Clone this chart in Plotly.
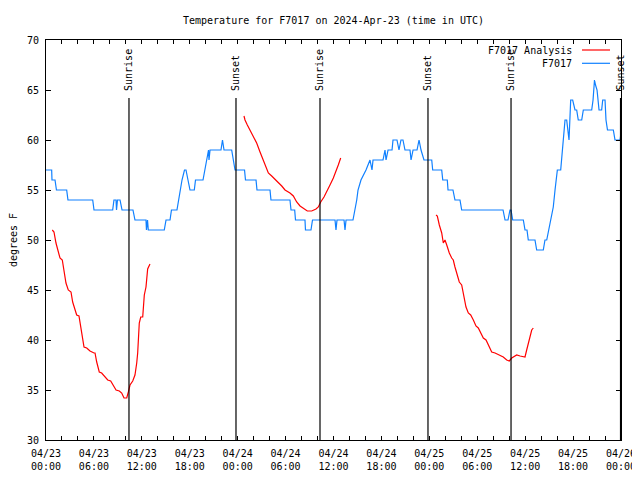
import pandas as pd
import plotly.graph_objects as go

START = "2024-04-23 00:00"

# Observations F7017 (hours since 04/23 00:00 UTC, degrees F)
obs_hours = [0.0, 0.71, 0.75, 1.13, 1.31, 2.59, 2.75, 5.85, 6.01, 8.35, 8.51, 8.77, 8.83, 8.95, 9.27, 9.52,
             10.89, 11.14, 12.52, 12.58, 12.71, 12.81, 14.81, 15.03, 15.53, 15.71, 16.40, 16.59, 16.78, 17.03,
             17.34, 17.53, 17.78, 18.03, 18.57, 18.72, 19.66, 19.91, 20.16, 20.35, 20.41, 20.54, 20.79, 21.91,
             22.10, 22.29, 23.25, 23.45, 23.67, 24.86, 24.98, 26.30, 26.42, 28.05, 28.17, 30.55, 30.68, 31.14,
             31.24, 32.43, 32.49, 33.18, 33.37, 36.19, 36.31, 36.44, 37.32, 37.44, 37.57, 38.44, 38.69, 38.91,
             39.07, 39.44, 40.07, 40.57, 40.82, 40.95, 42.20, 42.45, 42.58, 42.83, 43.33, 43.45, 43.95, 44.20,
             44.45, 44.70, 44.95, 45.58, 45.71, 45.96, 46.46, 46.71, 46.96, 47.33, 48.30, 48.42, 49.55, 49.68,
             50.25, 50.34, 50.96, 51.21, 51.84, 52.05, 57.23, 57.48, 57.85, 58.10, 58.23, 58.44, 59.77, 59.98,
             60.23, 60.39, 61.23, 61.44, 62.27, 62.48, 62.70, 63.11, 63.52, 63.74, 63.95, 64.03, 64.45, 64.74,
             64.99, 65.20, 65.37, 65.49, 65.70, 65.95, 66.24, 66.45, 66.65, 67.08, 67.28, 68.33, 68.50, 68.68,
             68.81, 69.00, 69.25, 69.58, 69.71, 70.00, 70.12, 70.31, 71.04, 71.25, 71.88, 72.0]
obs_temp = [57, 57, 56, 56, 55, 55, 54, 54, 53, 53, 54, 54, 53, 54, 54, 53,
            53, 52, 52, 51, 52, 51, 51, 52, 52, 53, 53, 54, 55, 56,
            57, 57, 56, 55, 55, 56, 56, 57, 58, 59, 58, 59, 59, 59,
            60, 59, 59, 58, 57, 57, 56, 56, 55, 55, 54, 54, 53, 53,
            52, 52, 51, 51, 52, 52, 51, 52, 52, 51, 52, 52, 53, 54,
            55, 56, 57, 58, 57, 58, 58, 59, 58, 59, 59, 60, 60, 59,
            60, 60, 59, 59, 58, 59, 59, 60, 59, 58, 58, 57, 57, 56,
            56, 55, 55, 54, 54, 53, 53, 52, 52, 53, 53, 52, 52, 51,
            51, 50, 50, 49, 49, 50, 50, 51.7, 53.3, 55, 56.3, 57, 57, 60,
            62, 62, 60.7, 60, 64, 64, 63, 63, 62, 62, 63, 63, 64, 66,
            65.5, 65, 63, 63, 64, 64, 62, 61, 61, 60, 60, 60.7]

# Analysis F7017 (three overnight segments)
ana1_hours = [0.79, 1.00, 1.25, 1.54, 1.75, 2.04, 2.25, 2.50, 2.79, 3.13, 3.34, 3.63, 3.84, 4.13, 4.35, 4.55,
              4.76, 5.10, 5.51, 6.01, 6.14, 6.35, 6.67, 6.97, 7.39, 7.73, 8.10, 8.43, 8.77, 9.18, 9.48, 9.77,
              10.11, 10.31, 10.52, 10.86, 11.14, 11.36, 11.48, 11.68, 11.86, 12.11, 12.31, 12.52, 12.73, 13.02]
ana1_temp = [51.0, 50.8, 49.7, 48.7, 48.2, 48.0, 46.8, 45.7, 45.0, 44.8, 43.8, 43.0, 42.5, 42.4, 41.2, 40.3,
             39.3, 39.2, 38.9, 38.7, 38.7, 37.8, 36.8, 36.7, 36.3, 36.0, 35.9, 35.4, 35.0, 34.9, 34.7, 34.2,
             34.2, 34.8, 35.5, 35.9, 36.5, 37.7, 38.7, 41.7, 42.3, 42.3, 44.5, 45.3, 47.1, 47.6]
ana2_hours = [24.79, 24.92, 25.21, 25.55, 25.76, 26.05, 26.38, 26.80, 27.21, 27.55, 27.84, 28.26, 28.68,
              29.09, 29.52, 29.93, 30.55, 30.97, 31.39, 31.81, 32.22, 32.72, 33.27, 33.81, 34.10, 34.40,
              34.81, 35.22, 35.56, 35.98, 36.31, 36.60, 36.90]
ana2_temp = [62.4, 62.0, 61.5, 61.0, 60.7, 60.3, 59.7, 58.8, 58.0, 57.2, 56.7, 56.4, 56.1,
             55.8, 55.4, 55.0, 54.7, 54.4, 53.8, 53.4, 53.2, 52.9, 52.9, 53.1, 53.3, 53.8,
             54.3, 54.9, 55.5, 56.2, 56.8, 57.5, 58.2]
ana3_hours = [48.84, 49.00, 49.25, 49.55, 49.75, 49.96, 50.18, 50.50, 50.80, 51.00, 51.21, 51.50, 51.75,
              52.05, 52.26, 52.59, 52.88, 53.18, 53.51, 53.84, 54.13, 54.43, 54.76, 55.10, 55.39, 55.81,
              56.23, 56.76, 57.26, 57.69, 58.01, 58.32, 58.94, 59.36, 59.98, 60.19, 60.61, 60.82, 61.02]
ana3_temp = [52.5, 52.4, 51.5, 50.7, 49.7, 50.0, 49.5, 48.7, 48.2, 48.0, 47.3, 46.5, 45.8,
             45.5, 44.5, 43.3, 42.7, 42.5, 42.0, 41.4, 41.2, 40.7, 40.2, 40.0, 39.5, 38.8,
             38.7, 38.5, 38.3, 38.0, 37.9, 38.2, 38.5, 38.4, 38.3, 39.0, 40.2, 41.0, 41.2]

# Sun events (hours since start)
sun_hours = [10.39, 23.79, 34.31, 47.83, 58.23, 71.94]
sun_labels = ["Sunrise", "Sunset", "Sunrise", "Sunset", "Sunrise", "Sunset"]

tick_hours = [0, 6, 12, 18, 24, 30, 36, 42, 48, 54, 60, 66, 72]
tick_labels = ["04/23<br>00:00", "04/23<br>06:00", "04/23<br>12:00", "04/23<br>18:00",
               "04/24<br>00:00", "04/24<br>06:00", "04/24<br>12:00", "04/24<br>18:00",
               "04/25<br>00:00", "04/25<br>06:00", "04/25<br>12:00", "04/25<br>18:00",
               "04/26<br>00:00"]

TITLE = "Temperature for F7017 on 2024-Apr-23 (time in UTC)"
RED = "#ff0000"
BLUE = "#1080ff"
FONT = "DejaVu Sans Mono"

t0 = pd.Timestamp(START)


def to_time(hours):
    return [None if h is None else t0 + pd.Timedelta(hours=h) for h in hours]


ana_hours = ana1_hours + [None] + ana2_hours + [None] + ana3_hours
ana_temp = ana1_temp + [None] + ana2_temp + [None] + ana3_temp

fig = go.Figure()
fig.add_trace(go.Scatter(x=to_time(ana_hours), y=ana_temp, mode="lines",
                         line=dict(color=RED, width=1.2), name="F7017 Analysis",
                         connectgaps=False, showlegend=False))
fig.add_trace(go.Scatter(x=to_time(obs_hours), y=obs_temp, mode="lines",
                         line=dict(color=BLUE, width=1.2), name="F7017", showlegend=False))

# sunrise / sunset lines and labels
for h, lab in zip(sun_hours, sun_labels):
    t = t0 + pd.Timedelta(hours=h)
    fig.add_shape(type="line", xref="x", yref="paper", x0=t, x1=t, y0=0, y1=0.855,
                  line=dict(color="black", width=1.2))
    fig.add_annotation(x=t, xref="x", y=0.8675, yref="paper", text=lab, textangle=-90,
                       showarrow=False, xanchor="center", yanchor="bottom",
                       font=dict(family=FONT, size=10, color="black"))

# manual gnuplot-style key (top right)
for i, (name, col) in enumerate([("F7017 Analysis", RED), ("F7017", BLUE)]):
    ypix = 50 + i * 13.3
    yp = (440 - ypix) / 400
    fig.add_annotation(x=(573.5 - 46) / 575, xref="paper", y=yp, yref="paper", text=name,
                       showarrow=False, xanchor="right", yanchor="middle",
                       font=dict(family=FONT, size=10, color="black"))
    fig.add_shape(type="line", xref="paper", yref="paper",
                  x0=(582 - 46) / 575, x1=(610 - 46) / 575, y0=yp, y1=yp,
                  line=dict(color=col, width=1.2))

# the page body adds an 8 px offset; the figure is sized to fit the 640x480 window
fig.update_layout(
    width=632, height=472,
    margin=dict(l=38, r=19, t=32, b=40, autoexpand=False),
    paper_bgcolor="white", plot_bgcolor="white",
    font=dict(family=FONT, size=10, color="black"),
    title=dict(text=TITLE, x=0.5, xref="paper", y=1 - 12 / 472, yref="container",
               xanchor="center", yanchor="middle", font=dict(family=FONT, size=10, color="black")),
    showlegend=False,
)
fig.update_xaxes(
    range=[t0, t0 + pd.Timedelta(hours=72)],
    tickvals=to_time(tick_hours), ticktext=tick_labels,
    ticks="inside", ticklen=4, tickcolor="black",
    minor=dict(dtick=2 * 3600 * 1000, ticks="inside", ticklen=4, tickcolor="black", showgrid=False),
    showline=True, linecolor="black", linewidth=1, mirror="ticks",
    showgrid=False, zeroline=False, automargin=False, ticklabelstandoff=4,
    tickfont=dict(family=FONT, size=10, color="black"),
)
fig.update_yaxes(
    range=[30, 70], dtick=5, tick0=30,
    ticks="inside", ticklen=5, tickcolor="black",
    showline=True, linecolor="black", linewidth=1, mirror="ticks",
    showgrid=False, zeroline=False, automargin=False, ticklabelstandoff=4,
    title=dict(text="degrees F", font=dict(family=FONT, size=10, color="black"), standoff=18),
    tickfont=dict(family=FONT, size=10, color="black"),
)

fig.write_html("out.html")
